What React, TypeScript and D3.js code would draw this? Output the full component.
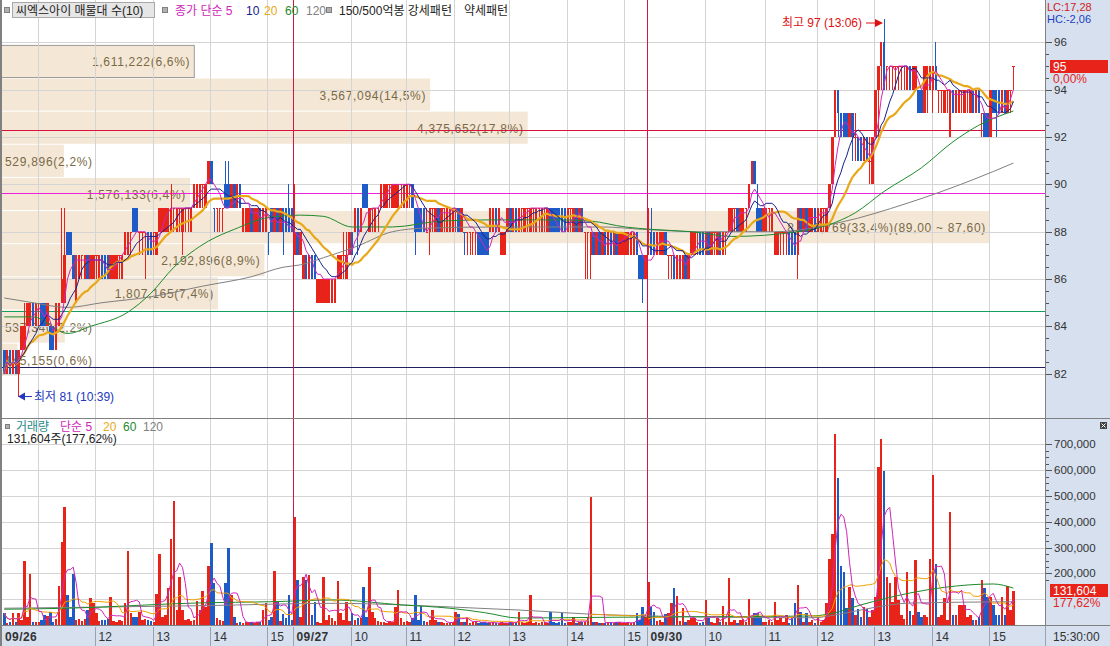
import React from 'react';
import * as d3 from 'd3';

// 3-minute bars: [open, high, low, close]
type Bar = [number, number, number, number];

const day1Bars: Bar[] = [
  [83,83,82,82],[82,83,82,83],[83,83,82,82],[82,83,82,83],[83,83,82,82],[82,83,81,83],[83,84,83,84],[83,85,83,84],[84,85,84,85],[84,85,84,85],
  [85,85,84,84],[84,85,84,85],[85,85,84,85],[85,85,84,84],[85,85,84,84],[84,85,84,85],[84,84,83,83],[84,84,83,83],[83,85,83,85],[84,85,84,85],
  [85,89,85,86],[85,89,85,87],[88,88,87,87],[88,88,87,87],[87,87,86,86],[85,87,85,87],[86,87,86,87],[87,87,86,87],[86,87,86,87],[87,87,86,86],
  [86,87,86,87],[86,87,86,87],[87,87,86,87],[86,87,86,87],[87,87,86,86],[87,87,86,86],[87,87,86,86],[86,87,86,87],[86,87,86,87],[86,87,86,87],
  [87,87,86,87],[86,87,86,87],[87,88,87,88],[87,88,87,88],[88,88,87,88],[89,89,88,88],[89,89,88,88],[88,88,87,88],[88,88,87,88],[88,88,86,88],
  [88,88,87,87],[88,88,87,87],[88,88,87,88],[87,88,87,88],[88,89,88,89],[88,89,88,89],[88,89,88,89],[88,89,88,89],[88,90,88,89],[89,89,88,89],
  [88,89,88,89],[89,89,88,89],[88,89,87,89],[89,89,88,89],[89,89,88,89],[88,89,88,89],[89,90,89,90],[89,90,89,90],[89,90,89,90],[90,90,89,90],
  [89,90,89,90],[90,91,90,91],[91,91,90,90],[89,89,88,89],[89,89,88,89],[89,89,88,89],[89,89,88,89],[90,91,89,89],[90,91,89,89],[89,90,89,90],
  [90,90,89,89],[89,90,89,90],[90,90,89,89],[88,89,88,89],[88,89,88,89],[88,89,88,89],[89,89,88,88],[88,89,88,89],[88,89,88,89],[89,89,88,88],
  [88,89,88,89],[88,89,88,89],[88,88,87,88],[89,89,88,88],[88,89,88,89],[89,89,88,88],[88,89,88,89],[89,89,87,88],[89,89,88,88],[89,90,88,88],
  [89,89,88,88],
];

const day2Bars: Bar[] = [
  [87,90,87,88],[88,88,87,87],[87,88,87,88],[86,87,86,87],[87,87,86,86],[86,87,86,87],[87,87,86,86],[87,87,86,86],[85,86,85,86],[85,86,85,86],
  [85,86,85,86],[85,86,85,86],[85,86,85,86],[85,86,85,86],[85,86,85,86],[86,87,86,87],[86,87,86,87],[87,88,86,87],[86,88,86,87],[87,88,87,88],
  [88,88,87,87],[88,89,88,89],[89,89,87,88],[88,89,88,89],[90,90,89,89],[90,90,89,89],[88,89,88,89],[89,89,88,89],[88,89,88,89],[89,89,88,89],
  [89,90,89,90],[89,90,89,90],[89,90,89,90],[90,90,89,90],[89,90,89,90],[89,90,89,90],[89,90,89,90],[90,90,89,90],[89,90,89,90],[89,90,89,90],
  [90,90,89,90],[90,90,89,89],[89,89,87,88],[89,89,88,88],[89,89,88,88],[89,89,88,88],[88,89,88,88],[88,89,87,89],[89,89,88,89],[88,89,88,89],
  [89,89,88,88],[88,89,88,89],[89,89,88,89],[88,89,88,89],[88,89,88,89],[88,89,88,89],[89,89,88,89],[89,89,88,88],[88,89,88,89],[88,88,87,88],
  [88,88,87,88],[88,88,87,88],[88,88,87,88],[88,88,87,88],[88,88,87,87],[88,88,87,87],[88,88,87,87],[88,88,87,87],[88,89,88,89],[88,89,88,89],
  [89,89,88,88],[88,89,88,89],[87,88,87,88],[87,88,87,88],[88,89,88,89],[89,89,88,88],[88,89,88,89],[89,89,88,88],[88,89,88,89],[89,89,88,89],
  [88,89,88,89],[89,89,88,89],[88,89,88,89],[89,89,88,89],[88,89,88,89],[89,89,88,89],[88,89,88,89],[89,89,88,89],[88,89,88,89],[89,89,88,88],
  [89,89,88,88],[89,89,88,88],[89,89,88,88],[89,89,88,88],[89,89,88,88],[88,89,88,89],[89,89,88,89],[88,89,88,89],[89,89,88,88],[88,89,88,89],
  [89,89,88,88],[88,88,86,88],[88,88,86,88],[87,88,86,88],[88,88,87,87],[87,88,87,88],[88,88,87,87],[87,88,87,88],[88,88,87,87],[87,88,87,88],
  [88,88,87,87],[87,88,87,88],[88,88,87,87],[87,88,87,88],[87,88,87,88],[87,88,87,88],[87,88,87,88],[87,88,87,88],[87,88,87,88],[88,88,87,87],
  [87,87,86,86],[87,87,85,86],[86,87,86,87],
];

const day3Bars: Bar[] = [
  [88,89,87,88],[88,89,87,87],[88,88,87,87],[87,88,87,88],[87,88,87,88],[87,88,87,88],[88,88,87,87],[87,87,86,87],[87,87,86,87],[87,87,86,86],
  [86,87,86,87],[86,87,86,87],[86,87,86,87],[87,87,86,86],[86,87,86,87],[87,88,87,88],[87,88,87,88],[88,88,87,88],[88,88,87,87],[88,88,87,87],
  [87,88,87,88],[88,88,87,87],[87,88,87,88],[88,88,87,88],[87,88,87,88],[88,88,87,87],[87,88,87,88],[88,88,87,88],[88,89,88,89],[88,89,88,89],
  [89,89,88,89],[89,89,88,88],[88,89,88,89],[88,89,88,89],[89,89,88,89],[89,90,89,90],[90,91,90,91],[91,91,90,90],[89,90,88,88],[89,89,88,88],
  [88,89,88,89],[88,89,88,89],[89,89,88,89],[88,89,88,89],[87,88,87,88],[87,88,87,88],[88,88,87,88],[88,88,87,88],[88,88,87,88],[88,88,87,87],
  [88,88,87,87],[88,88,87,87],[87,89,86,89],[89,89,88,88],[88,89,88,89],[89,89,88,88],[88,89,88,89],[88,89,88,89],[89,89,88,88],[88,89,88,89],
  [88,89,88,89],[89,89,88,89],[88,89,88,89],[89,90,89,90],[90,92,90,92],[92,94,92,94],[94,94,92,93],[93,93,92,92],[93,93,92,92],[93,93,92,92],
  [92,93,92,93],[93,93,91,92],[92,93,91,92],[92,92,91,91],[92,92,91,91],[91,92,91,92],[92,92,91,91],[91,92,90,91],[90,92,90,92],[92,94,92,94],
  [94,95,92,95],[95,96,94,96],[96,97,94,94],[95,95,94,95],[95,95,94,95],[95,95,94,95],[95,95,94,95],[95,95,94,95],[95,95,94,95],[95,95,94,95],
  [94,95,94,95],[95,95,94,94],[94,95,94,95],[94,95,94,95],[94,94,93,93],[94,94,93,93],[93,95,93,95],[94,95,93,95],[94,95,94,95],[94,95,93,95],
  [95,96,94,94],[94,94,93,94],[94,94,93,94],[93,94,93,94],[94,94,93,94],[92,94,92,94],[94,94,93,93],[93,94,93,94],[93,94,93,94],[94,94,93,94],
  [93,94,93,94],[94,94,93,94],[93,94,93,94],[94,94,93,93],[93,94,93,94],[94,94,93,93],[93,93,92,93],[93,93,92,92],[93,93,92,92],[92,94,92,94],
  [94,94,93,93],[94,94,92,93],[94,94,93,93],[93,94,93,94],[94,94,93,93],[93,94,93,94],[94,94,93,94],[95,95,94,95],
];

// volume per bar, thousand shares
const day1Volume = [
  45,8,12,45,10,45,20,250,30,197, 13,13,13,20,39,35,50,10,25,150,
  320,458,116,30,197,20,25,15,25,58, 106,84,45,15,20,18,22,110,15,12,
  20,15,84,286,45,32,32,50,20,25, 20,15,13,120,275,30,39,142,333,480,
  58,187,58,20,25,15,20,94,58,131, 71,228,319,161,26,20,15,161,300,116,
  32,6,10,6,10,13,13,8,13,10, 58,84,20,32,210,90,15,42,26,116, 20,
];
const day2Volume = [
  420,174,30,187,174,194,39,90,13,6, 187,20,39,26,15,172,48,20,90,15,
  45,20,26,26,146,32,226,52,26,15, 13,10,8,16,10,70,135,26,10,16,
  12,26,116,20,73,15,13,20,58,19, 12,10,9,8,9,12,50,42,10,12,
  26,8,10,16,8,10,13,6,8,10, 6,8,10,6,8,13,8,10,50,10,
  8,12,116,8,10,6,10,12,8,50, 10,8,12,45,8,10,12,32,8,10,
  13,10,32,495,10,13,8,6,8,10, 13,8,13,10,8,6,10,8,12,45,
  20,68,30,
];
const day3Volume = [
  168,71,52,15,20,10,42,45,84,142, 112,15,65,10,19,26,26,10,8,10,
  97,26,10,8,26,10,74,12,181,10, 19,8,19,22,10,99,30,48,45,32,
  10,12,19,10,88,19,26,10,39,8, 32,84,154,52,10,45,12,19,8,32,
  10,19,87,255,353,740,568,229,207,65, 149,103,40,61,30,71,61,32,58,110,
  613,720,597,187,161,90,187,97,40,23, 207,55,40,252,52,32,40,30,255,581,
  236,30,40,103,19,438,39,40,77,77, 77,30,39,19,19,30,174,142,110,110,
  77,40,40,110,39,152,60,131.604,
];

const dayLabels = ['09/26', '09/27', '09/30'];
const dayStart = [0, 101, 224];
const hourLabels = ['', '12', '13', '14', '15', '10', '11', '12', '13', '14', '15', '10', '11', '12', '13', '14', '15'];
const hourIndex = [12, 32, 52, 72, 92, 121, 140, 157, 176, 196, 216, 244, 265, 283, 303, 323, 343];

// 매물대: price bands, lowest first
const profileEdges = [82.0, 83.4, 84.8, 86.2, 87.6, 89.0, 90.4, 91.8, 93.2, 94.6, 96.0];
const profileVolume = [145155, 537340, 1807165, 2192896, 8209769, 1576133, 529896, 4375652, 3567094, 1611222];

const refPrices = [92.3, 89.62, 84.65, 82.27];
const refColors = ['#d8103c', '#f020e0', '#10a060', '#202060'];

// longer averages: [bar, value]
const priceMa60 = [[0,84.4],[10,84.4],[22,83.7],[30,84.0],[43,84.6],[51,85.4],[59,86.5],[71,87.6],[80,88.1],[92,88.6],[103,88.7],[111,88.65],[121,88.2],[135,88.2],[152,88.45],[169,88.5],[194,88.5],[204,88.45],[216,88.2],[225,88.1],[239,88.0],[253,87.8],[276,88.0],[287,88.3],[296,88.8],[306,89.7],[319,90.7],[330,91.8],[339,92.5],[351,93.1]];
const priceMa120 = [[0,85.2],[10,85.0],[22,84.8],[34,85.0],[51,85.25],[69,85.7],[86,86.1],[97,86.5],[103,86.6],[111,86.9],[123,87.4],[135,88.0],[146,88.15],[173,88.2],[208,88.2],[222,88.1],[242,88.0],[268,88.0],[291,88.4],[314,89.2],[337,90.2],[351,90.9]];
const volMa60 = [[0,61],[22,65],[69,86],[92,90],[115,97],[138,78],[155,65],[167,48],[179,27],[211,30],[246,32],[281,35],[288,45],[298,78],[315,124],[327,146],[344,159],[351,143]];
const volMa120 = [[0,65],[69,75],[115,84],[155,70],[179,58],[211,39],[281,28],[292,45],[304,71],[315,85],[351,90]];

const priceTicks = [82, 84, 86, 88, 90, 92, 94, 96];
const volTicks = [200, 300, 400, 500, 600, 700];

const UP = '#e8231a';
const DOWN = '#1f5bc7';
const C_MA5 = '#d026b8';
const C_MA10 = '#16208a';
const C_MA20 = '#e8a818';
const C_MA60 = '#1d8a2c';
const C_MA120 = '#808080';
const C_DAY = '#d01848';
const FONT = "'Liberation Sans', 'Noto Sans CJK KR', sans-serif";

const bars = [...day1Bars, ...day2Bars, ...day3Bars];
const volume = [...day1Volume, ...day2Volume, ...day3Volume];
const N = bars.length;

const PW = 1045; // plot right edge
const x = d3.scaleLinear().domain([0, 352]).range([3, 1015]);
const yP = d3.scaleLinear().domain([82, 96]).range([373.7, 42.4]);
const yV = d3.scaleLinear().domain([0, 700]).range([625, 444.4]);
const BW = 2.5;

const sma = (vals: number[], n: number) =>
  vals.map((_, i) => d3.mean(vals.slice(Math.max(0, i - n + 1), i + 1)) as number);

const colors = bars.map((b, i) => {
  const [o, , , c] = b;
  if (c > o) return UP;
  if (c < o) return DOWN;
  const prev = i > 0 ? bars[i - 1][3] : c;
  return c >= prev ? UP : DOWN;
});

const fmtPct = (v: number) => v.toFixed(1).replace('.', ',');
const crisp = (v: number) => Math.round(v) + 0.5;

const App = () => {
  const closes = bars.map(b => b[3]);
  const ma5 = sma(closes, 5);
  const ma10 = sma(closes, 10);
  const ma20 = sma(closes, 20);
  const vma5 = sma(volume, 5);
  const vma20 = sma(volume, 20);

  const lineP = d3.line<number>().x((_, i) => x(i) + BW / 2).y(v => yP(v));
  const lineV = d3.line<number>().x((_, i) => x(i) + BW / 2).y(v => yV(v));
  const knotP = d3.line<number[]>().x(d => x(d[0]) + BW / 2).y(d => yP(d[1])).curve(d3.curveMonotoneX);
  const knotV = d3.line<number[]>().x(d => x(d[0]) + BW / 2).y(d => yV(d[1])).curve(d3.curveMonotoneX);

  const total = d3.sum(profileVolume);
  const maxVol = d3.max(profileVolume) as number;
  const lastClose = closes[N - 1];

  const gridX = hourIndex.map(i => crisp(x(i)));
  const sepX = dayStart.map(i => crisp(x(i)));

  const minorP = d3.range(82, 96.01, 0.5).filter(v => v % 2 !== 0);
  const minorV = d3.range(175, 725, 25).filter(v => v % 100 !== 0);

  return (
    <div style={{ position: 'absolute', left: 0, top: 0 }}>
      <svg width={1110} height={646} style={{ display: 'block', fontFamily: FONT }}>
        <defs>
          <clipPath id="cp"><rect x={0} y={0} width={PW} height={418} /></clipPath>
          <clipPath id="cv"><rect x={0} y={419} width={PW} height={206} /></clipPath>
        </defs>
        <rect x={0} y={0} width={1110} height={646} fill="#fff" />

        {/* volume profile boxes */}
        <g>
          {profileVolume.map((v, k) => {
            const y0 = yP(profileEdges[k + 1]) + 3;
            const y1 = yP(profileEdges[k]) + 2;
            const w = (v / maxVol) * 990;
            const pct = (v / total) * 100;
            let label = `${d3.format(',')(v)}(${fmtPct(pct)}%)`;
            if (v === maxVol) {
              label += `(${profileEdges[k + 1].toFixed(2).replace('.', ',')} ~ ${profileEdges[k].toFixed(2).replace('.', ',')})`;
            }
            const tw = label.length * 6.7;
            const fits = w - 4 > tw + 5;
            const current = lastClose >= profileEdges[k] && lastClose < profileEdges[k + 1];
            return (
              <g key={k}>
                <rect x={0} y={y0} width={w} height={y1 - y0} fill="#f4e7d5"
                  stroke={current ? '#9a9a9a' : 'none'} />
                <text x={fits ? w - 4 : 5} y={(y0 + y1) / 2 + 1} textAnchor={fits ? 'end' : 'start'}
                  dominantBaseline="central" fontSize={12} letterSpacing={0.7} fill="#7a6a48">{label}</text>
              </g>
            );
          })}
        </g>

        {/* grid */}
        <g stroke="#d4d4d4" strokeWidth={1} shapeRendering="crispEdges">
          {priceTicks.map(p => <line key={p} x1={0} x2={PW} y1={crisp(yP(p))} y2={crisp(yP(p))} />)}
          {[100, ...volTicks].map(v => <line key={v} x1={0} x2={PW} y1={crisp(yV(v))} y2={crisp(yV(v))} />)}
          {gridX.map((gx, k) => <line key={k} x1={gx} x2={gx} y1={0} y2={625} />)}
        </g>

        {/* reference lines */}
        {refPrices.map((p, k) => (
          <line key={k} x1={0} x2={PW} y1={crisp(yP(p))} y2={crisp(yP(p))}
            stroke={refColors[k]} strokeWidth={1} shapeRendering="crispEdges" />
        ))}

        {/* candles */}
        <g clipPath="url(#cp)" shapeRendering="crispEdges">
          {bars.map((b, i) => {
            const [o, h, l, c] = b;
            const x0 = x(i);
            const top = yP(Math.max(o, c));
            const bot = yP(Math.min(o, c));
            return (
              <g key={i}>
                <line x1={crisp(x0 + 0.8)} x2={crisp(x0 + 0.8)} y1={yP(h)} y2={yP(l)} stroke={colors[i]} />
                <rect x={x0} y={top} width={BW} height={Math.max(1, bot - top)} fill={colors[i]} />
              </g>
            );
          })}
        </g>

        {/* price moving averages */}
        <g clipPath="url(#cp)" fill="none">
          <path d={knotP(priceMa120) || ''} stroke={C_MA120} strokeWidth={1} />
          <path d={knotP(priceMa60) || ''} stroke={C_MA60} strokeWidth={1} />
          <path d={lineP(ma20) || ''} stroke={C_MA20} strokeWidth={2.2} />
          <path d={lineP(ma10) || ''} stroke={C_MA10} strokeWidth={1} />
          <path d={lineP(ma5) || ''} stroke={C_MA5} strokeWidth={1} />
        </g>

        {/* volume bars */}
        <g clipPath="url(#cv)" shapeRendering="crispEdges">
          {volume.map((v, i) => (
            <rect key={i} x={x(i)} y={yV(v)} width={BW} height={625 - yV(v)} fill={colors[i]} />
          ))}
        </g>
        <g clipPath="url(#cv)" fill="none" strokeWidth={1}>
          <path d={knotV(volMa120) || ''} stroke={C_MA120} />
          <path d={knotV(volMa60) || ''} stroke={C_MA60} />
          <path d={lineV(vma20) || ''} stroke="#f0a000" />
          <path d={lineV(vma5) || ''} stroke={C_MA5} />
        </g>

        {/* day separators */}
        {sepX.slice(1).map((sx, k) => (
          <line key={k} x1={sx} x2={sx} y1={0} y2={625} stroke={C_DAY} strokeWidth={1} shapeRendering="crispEdges" />
        ))}

        {/* high / low marks */}
        <g fontSize={12}>
          <text x={862} y={23} textAnchor="end" dominantBaseline="central" fill="#e01010">최고 97 (13:06)</text>
          <line x1={866} x2={876} y1={23} y2={23} stroke="#e01010" />
          <path d="M875,19 L883,23 L875,27 Z" fill="#e01010" />
          <path d="M18,396.5 L25,392.5 L25,400.5 Z" fill="#2238c0" />
          <line x1={24} x2={32} y1={396.5} y2={396.5} stroke="#2238c0" />
          <text x={34} y={396.5} dominantBaseline="central" fill="#2238c0">최저 81 (10:39)</text>
        </g>

        {/* legends */}
        <g fontSize={12} dominantBaseline="central">
          <rect x={4.5} y={7.5} width={5} height={5} fill="#b0b0b0" stroke="#808080" />
          <rect x={12.5} y={2.5} width={142} height={15} fill="#e6e6e6" stroke="#a8a8a8" />
          <text x={16} y={10.5} fill="#222">씨엑스아이 매물대 수(10)</text>
          <rect x={162.5} y={7.5} width={5} height={5} fill="#b0b0b0" stroke="#808080" />
          <text x={175} y={10.5} fill={C_MA5}>종가 단순 5</text>
          <text x={246} y={10.5} fill={C_MA10}>10</text>
          <text x={264} y={10.5} fill={C_MA20}>20</text>
          <text x={285} y={10.5} fill={C_MA60}>60</text>
          <text x={306} y={10.5} fill={C_MA120}>120</text>
          <rect x={326.5} y={7.5} width={5} height={5} fill="#b0b0b0" stroke="#808080" />
          <text x={339} y={10.5} fill="#222">150/500억봉 강세패턴</text>
          <text x={464} y={10.5} fill="#222">약세패턴</text>

          <rect x={5.5} y={424.5} width={4} height={4} fill="#b0b0b0" stroke="#808080" />
          <text x={16} y={427} fill="#2a8a8a">거래량</text>
          <text x={60} y={427} fill={C_MA5}>단순 5</text>
          <text x={103} y={427} fill={C_MA20}>20</text>
          <text x={123} y={427} fill={C_MA60}>60</text>
          <text x={143} y={427} fill={C_MA120}>120</text>
          <text x={7} y={439} fill="#222">131,604주(177,62%)</text>
        </g>

        {/* right axis */}
        <rect x={1046} y={0} width={64} height={646} fill="#d6e0ef" />
        <g stroke="#555" shapeRendering="crispEdges">
          {priceTicks.map(p => <line key={p} x1={1046} x2={1052} y1={crisp(yP(p))} y2={crisp(yP(p))} />)}
          {minorP.map(p => <line key={p} x1={1046} x2={1049} y1={crisp(yP(p))} y2={crisp(yP(p))} />)}
          {volTicks.map(v => <line key={v} x1={1046} x2={1052} y1={crisp(yV(v))} y2={crisp(yV(v))} />)}
          {minorV.map(v => <line key={v} x1={1046} x2={1049} y1={crisp(yV(v))} y2={crisp(yV(v))} />)}
        </g>
        <g fontSize={11.5} fill="#333" dominantBaseline="central">
          {priceTicks.map(p => <text key={p} x={1054} y={yP(p)}>{p}</text>)}
          {volTicks.map(v => <text key={v} x={1054} y={yV(v)}>{d3.format(',')(v * 1000)}</text>)}
        </g>
        <g fontSize={11} dominantBaseline="central">
          <text x={1047} y={6.5} fill="#d02020">LC:17,28</text>
          <text x={1047} y={19} fill="#2040c0">HC:-2,06</text>
        </g>
        <g fontSize={12} dominantBaseline="central">
          <rect x={1050} y={60} width={58} height={13} fill="#e8231a" />
          <text x={1053} y={66.5} fill="#fff">{lastClose}</text>
          <text x={1053} y={78.5} fill="#e8231a">0,00%</text>
          <rect x={1050} y={584} width={58} height={13} fill="#e8231a" />
          <text x={1053} y={590.5} fill="#fff">{d3.format(',')(Math.round(volume[N - 1] * 1000))}</text>
          <text x={1053} y={603} fill="#e8231a">177,62%</text>
        </g>
        <rect x={1100} y={422} width={7} height={7} fill="#444" />
        <path d="M1101.5,423.5 L1105.5,427.5 M1105.5,423.5 L1101.5,427.5" stroke="#fff" />

        {/* bottom axis */}
        <rect x={0} y={626} width={1110} height={20} fill="#d6e0ef" />
        <g stroke="#9aa2b2" shapeRendering="crispEdges">
          {[...sepX.slice(1), ...gridX.slice(1)].map((sx, k) => <line key={k} x1={sx} x2={sx} y1={627} y2={646} />)}
          <line x1={1045.5} x2={1045.5} y1={626} y2={646} />
        </g>
        <g fontSize={12} fill="#333" dominantBaseline="central">
          {dayLabels.map((d, k) => (
            <text key={d} x={k === 0 ? 5 : sepX[k] + 3} y={636.5} fontWeight="bold" letterSpacing={0.4}>{d}</text>
          ))}
          {hourLabels.map((h, k) => h && <text key={k} x={gridX[k] + 3} y={636.5}>{h}</text>)}
          <text x={1053} y={636.5}>15:30:00</text>
        </g>

        {/* frame */}
        <g stroke="#808080" shapeRendering="crispEdges">
          <line x1={0} x2={1110} y1={418.5} y2={418.5} />
          <line x1={0} x2={1110} y1={625.5} y2={625.5} />
          <line x1={1045.5} x2={1045.5} y1={0} y2={626} />
          <line x1={1} x2={1} y1={0} y2={646} strokeWidth={2} />
        </g>
      </svg>
    </div>
  );
};

export default App;
